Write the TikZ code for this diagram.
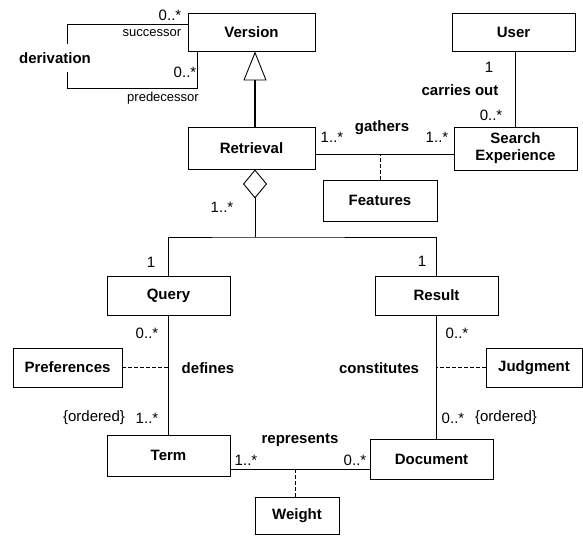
\documentclass[tikz,border=0pt]{standalone}
\usepackage{fontspec}
\setmainfont{Liberation Sans}
\usetikzlibrary{arrows.meta,calc}
\tikzset{
  cls/.style={draw, line width=0.9pt, fill=white, inner sep=0pt, align=center,
    font=\fontsize{15}{17}\selectfont\bfseries},
  lbl/.style={inner sep=0pt, font=\fontsize{15}{17}\selectfont},
  role/.style={inner sep=0pt, font=\fontsize{13}{15}\selectfont},
  aname/.style={inner sep=0pt, font=\fontsize{15}{17}\selectfont\bfseries},
  conn/.style={line width=0.9pt},
  dconn/.style={line width=0.9pt, dash pattern=on 3.5pt off 2.5pt}
}
\begin{document}
\begin{tikzpicture}[x=1pt,y=-1pt]
\useasboundingbox (0,0) rectangle (583,536);
% classes
\node[cls, minimum width=127pt, minimum height=38pt] (ver) at (251.5,32) {Version};
\node[cls, minimum width=123pt, minimum height=38pt] (usr) at (513.5,32) {User};
\node[cls, minimum width=127pt, minimum height=42pt] (ret) at (251.5,148) {Retrieval};
\node[cls, minimum width=123pt, minimum height=43pt] (se) at (515.5,148.5) {Search\\Experience};
\node[cls, minimum width=114pt, minimum height=41pt] (feat) at (380,200.5) {Features};
\node[cls, minimum width=123pt, minimum height=39pt] (qry) at (168.5,295.5) {Query};
\node[cls, minimum width=123pt, minimum height=39pt] (res) at (436.5,295.5) {Result};
\node[cls, minimum width=109pt, minimum height=39pt] (pref) at (67.5,367.5) {Preferences};
\node[cls, minimum width=96pt, minimum height=39pt] (judg) at (534,367.5) {Judgment};
\node[cls, minimum width=123pt, minimum height=41pt] (term) at (168.5,455.5) {Term};
\node[cls, minimum width=123pt, minimum height=40pt] (doc) at (431.5,459) {Document};
\node[cls, minimum width=84pt, minimum height=37pt] (wgt) at (297,515.5) {Weight};

% derivation self association
\draw[conn] ([yshift=-12pt]ver.north west) -| (67,88) -| ([xshift=10pt]ver.south west);
\node[aname, fill=white, inner xsep=1pt, inner ysep=8pt] (der) at (55,58) {derivation};
\node[lbl] (m1) at (170,15) {0..*};
\node[role] (r1) at (152,33) {successor};
\node[lbl] (m2) at (185,72) {0..*};
\node[role] (r2) at (163,98) {predecessor};

% generalization
\draw[line width=1.6pt, -{Triangle[open,length=29pt,width=23pt,line width=0.9pt]}]
  ([xshift=3.5pt]ret.north) -- ([xshift=3.5pt]ver.south);

% aggregation
\coordinate (br) at (255,237);
\draw[conn, {Diamond[open,length=29pt,width=24pt,line width=0.9pt]}-] ([xshift=3.5pt]ret.south) -- (br);
\draw[conn] (qry.north) |- (br) -| (res.north);
\node[lbl] (m3) at (222,207) {1..*};
\node[lbl] (m4) at (151,262) {1};
\node[lbl] (m5) at (422,261) {1};

% gathers
\coordinate (ga) at ($(ret.east)+(0,6)$);
\coordinate (gb) at (se.west |- ga);
\draw[conn] (ga) -- (gb);
\draw[dconn] (feat.north) -- (feat.north |- ga);
\node[aname] (gat) at (382,128) {gathers};
\node[lbl] (m6) at (332,137) {1..*};
\node[lbl] (m7) at (437,137) {1..*};

% carries out
\draw[conn] (se.north) -- (se.north |- usr.south);
\node[lbl] (m8) at (489,67) {1};
\node[aname] (co) at (460,90) {carries out};
\node[lbl] (m9) at (491,115) {0..*};

% defines
\draw[conn] (qry.south) -- (term.north);
\draw[dconn] (pref.east) -- (pref.east -| qry.south);
\node[lbl] (m10) at (147,333) {0..*};
\node[aname] (def) at (208,368) {defines};
\node[lbl] (c1) at (94,418) {\{ordered\}};
\node[lbl] (m11) at (147,418) {1..*};

% constitutes
\draw[conn] (res.south) -- (res.south |- doc.north);
\draw[dconn] (judg.west) -- (judg.west -| res.south);
\node[lbl] (m12) at (457,333) {0..*};
\node[aname] (con) at (379,368) {constitutes};
\node[lbl] (m13) at (453,418) {0..*};
\node[lbl] (c2) at (506,418) {\{ordered\}};

% represents
\coordinate (ra) at ($(term.east)+(0,13.5)$);
\coordinate (rb) at (doc.west |- ra);
\draw[conn] (ra) -- (rb);
\draw[dconn] ([xshift=-2pt]wgt.north) -- ([xshift=-2pt]wgt.north |- ra);
\node[aname] (rep) at (300,440) {represents};
\node[lbl] (m14) at (246,460) {1..*};
\node[lbl] (m15) at (355,460) {0..*};
\end{tikzpicture}
\end{document}
